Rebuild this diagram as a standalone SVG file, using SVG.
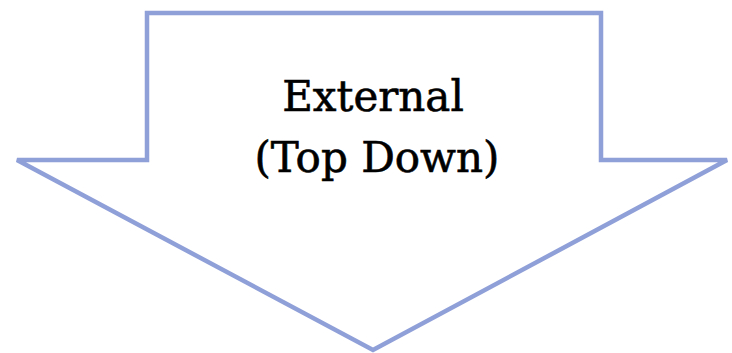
<svg xmlns="http://www.w3.org/2000/svg" width="732" height="353" viewBox="0 0 732 353">
<style>
.arrow{fill:#fff;stroke:#8f9fd8;stroke-width:4.5;stroke-linejoin:miter}
.lbl{font-family:"DejaVu Serif","Liberation Serif",serif;font-size:42px;fill:#000;stroke:#000;stroke-width:0.6;text-anchor:middle}
</style>
<rect width="732" height="353" fill="#fff"/>
<g id="arrow">
<polygon class="arrow" points="147,13 601,13 601,160 727,160 373,350 17,160 147,160"/>
<text class="lbl" x="373" y="111">External</text>
<text class="lbl" x="377" y="172">(Top Down)</text>
</g>
</svg>
